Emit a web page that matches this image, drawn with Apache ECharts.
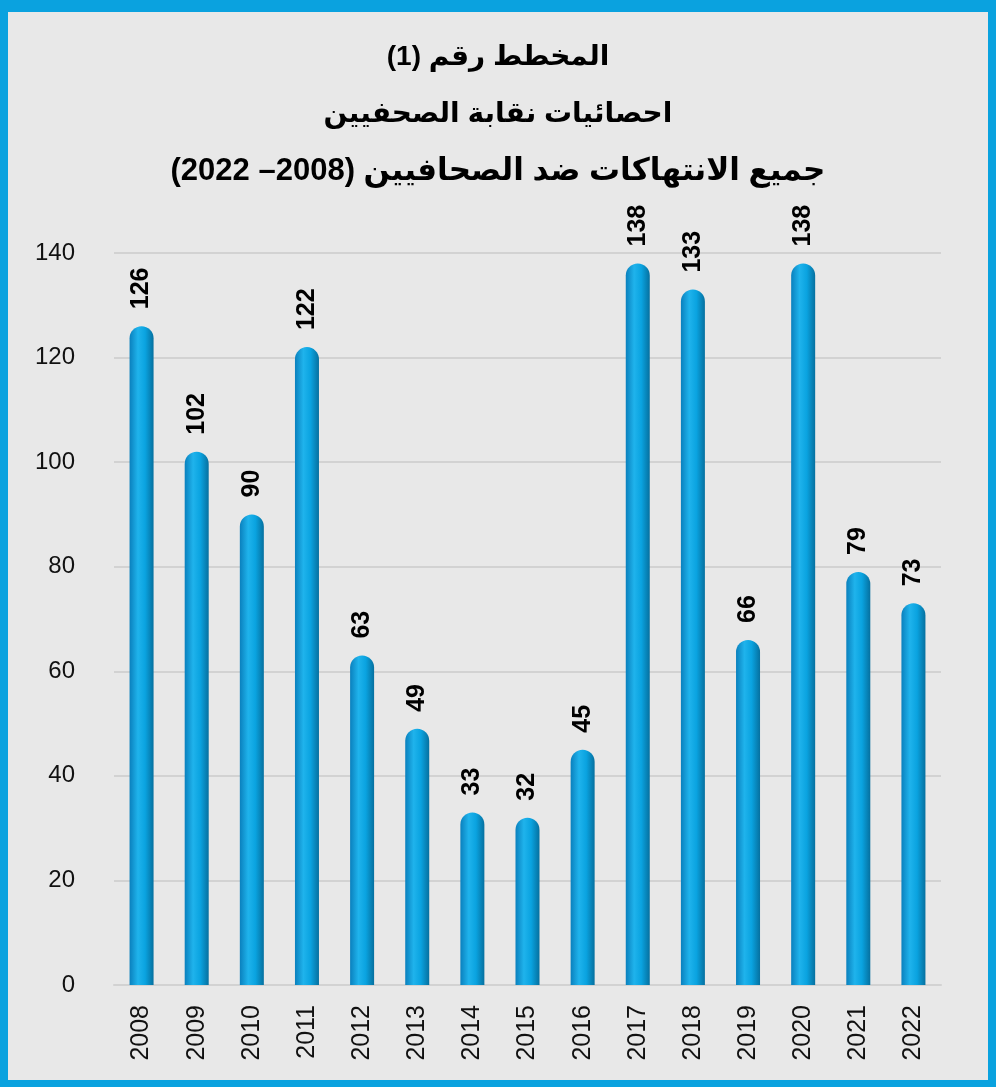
<!DOCTYPE html>
<html>
<head>
<meta charset="utf-8">
<script src="https://cdn.jsdelivr.net/npm/echarts@6/dist/echarts.min.js"></script>
<style>
  html, body { margin: 0; padding: 0; background: #e8e8e8; }
  .wrap { position: relative; width: 996px; height: 1087px; }
  #chart { position: absolute; left: 0; top: 0; width: 996px; height: 1087px; }
  .frame {
    position: absolute; left: 0; top: 0; width: 996px; height: 1087px;
    box-sizing: border-box; border: solid #0aa2df;
    border-width: 12px 8px 7px 8px; pointer-events: none;
  }
</style>
</head>
<body>
<div class="wrap">
  <div id="chart"></div>
  <div class="frame"></div>
</div>
<script>
// بيانات المخطط
const years = ['2008', '2009', '2010', '2011', '2012', '2013', '2014', '2015',
  '2016', '2017', '2018', '2019', '2020', '2021', '2022'];
const violations = [126, 102, 90, 122, 63, 49, 33, 32, 45, 138, 133, 66, 138, 79, 73];
const titleLines = [
  'المخطط رقم (1)',
  'احصائيات نقابة الصحفيين',
  'جميع الانتهاكات ضد الصحافيين (2008– 2022)'
];

// RLE ... PDF so the Arabic lines are laid out right-to-left on the canvas
const rtl = s => '\u202B' + s + '\u202C';

const chart = echarts.init(document.getElementById('chart'));
chart.setOption({
  backgroundColor: '#e8e8e8',
  animation: false,
  title: {
    text: '{a|' + rtl(titleLines[0]) + '}\n{a|' + rtl(titleLines[1]) + '}\n{b|' + rtl(titleLines[2]) + '}',
    left: 'center',
    top: 24,
    textStyle: {
      rich: {
        a: {
          fontFamily: 'Liberation Sans, DejaVu Sans, sans-serif',
          fontSize: 28,
          fontWeight: 'bold',
          color: '#000',
          lineHeight: 57,
          align: 'center'
        },
        b: {
          fontFamily: 'Liberation Sans, DejaVu Sans, sans-serif',
          fontSize: 31,
          fontWeight: 'bold',
          color: '#000',
          lineHeight: 57,
          align: 'center'
        }
      }
    }
  },
  grid: {
    left: 114,
    right: 55,
    top: 253,
    bottom: 102
  },
  xAxis: {
    type: 'category',
    data: years,
    axisLine: { lineStyle: { color: '#d2d2d2', width: 2 } },
    axisTick: { show: false },
    axisLabel: {
      rotate: 90,
      margin: 20,
      fontSize: 25,
      color: '#111',
      fontFamily: 'Liberation Sans, Arial, sans-serif',
      interval: 0
    }
  },
  yAxis: {
    type: 'value',
    min: 0,
    max: 140,
    interval: 20,
    axisLine: { show: false },
    axisTick: { show: false },
    splitLine: { lineStyle: { color: '#d2d2d2', width: 2 } },
    axisLabel: {
      margin: 39,
      fontSize: 24,
      color: '#111',
      fontFamily: 'Liberation Sans, Arial, sans-serif'
    }
  },
  series: [
    {
      type: 'bar',
      data: violations,
      barWidth: 24,
      itemStyle: {
        borderRadius: [12, 12, 0, 0],
        color: new echarts.graphic.LinearGradient(0, 0, 1, 0, [
          { offset: 0, color: '#0a80bd' },
          { offset: 0.35, color: '#1fb3ec' },
          { offset: 0.65, color: '#0aa3e0' },
          { offset: 1, color: '#06709f' }
        ])
      },
      label: {
        show: true,
        position: 'top',
        rotate: 90,
        align: 'left',
        verticalAlign: 'middle',
        distance: 17,
        fontSize: 25,
        fontWeight: 'bold',
        color: '#000',
        fontFamily: 'Liberation Sans, Arial, sans-serif'
      }
    }
  ]
});
</script>
</body>
</html>
